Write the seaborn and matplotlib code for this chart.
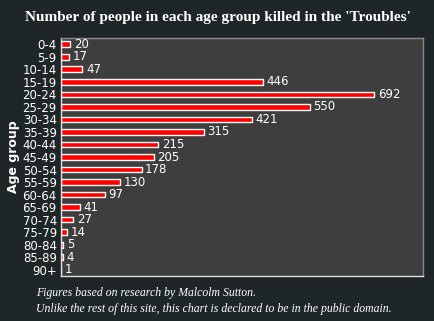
import matplotlib
matplotlib.use("Agg")
import matplotlib.pyplot as plt
import seaborn as sns
import pandas as pd

age_groups = ["0-4", "5-9", "10-14", "15-19", "20-24", "25-29", "30-34", "35-39",
              "40-44", "45-49", "50-54", "55-59", "60-64", "65-69", "70-74",
              "75-79", "80-84", "85-89", "90+"]
killed = [20, 17, 47, 446, 692, 550, 421, 315, 215, 205, 178, 130, 97, 41, 27,
          14, 5, 4, 1]

df = pd.DataFrame({"age": age_groups, "killed": killed})

sns.set_theme(style="dark")
plt.rcParams['font.family'] = ['DejaVu Sans']

fig = plt.figure(figsize=(4.35, 3.21), dpi=100)
fig.patch.set_facecolor("#1f2628")
ax = fig.add_axes([61/435, 45/321, 362/435, 238/321])
ax.set_facecolor("#3e3e3e")

sns.barplot(data=df, y="age", x="killed", orient="h", color="#ff0000",
            edgecolor="white", linewidth=1, width=0.45, saturation=1, ax=ax)

ax.set_xlim(0, 800)
ax.set_ylim(len(age_groups) - 0.5, -0.5)
ax.set_xticks([])
ax.set_xlabel("")
ax.set_ylabel("Age group", color="white", fontsize=9, fontweight="bold", labelpad=2)
ax.tick_params(axis="y", colors="white", labelsize=8.5, length=0, pad=3)
for lab in ax.get_yticklabels():
    lab.set_color("white")

for i, v in enumerate(killed):
    ax.text(v + 8, i, str(v), color="white", fontsize=8.5, va="center", ha="left")

for side in ["top", "right"]:
    ax.spines[side].set_visible(True)
    ax.spines[side].set_color("#8a8a8a")
for side in ["left", "bottom"]:
    ax.spines[side].set_visible(True)
    ax.spines[side].set_color("#e0e0e0")
for s in ax.spines.values():
    s.set_linewidth(1)

fig.text(218/435, 1 - 17/321, "Number of people in each age group killed in the 'Troubles'",
         ha="center", va="center", color="white", fontsize=11, fontweight="bold",
         family="Liberation Serif")
fig.text(36/435, 1 - 293/321, "Figures based on research by Malcolm Sutton.",
         ha="left", va="center", color="white", fontsize=8.5, style="italic",
         family="Liberation Serif")
fig.text(36/435, 1 - 309/321,
         "Unlike the rest of this site, this chart is declared to be in the public domain.",
         ha="left", va="center", color="white", fontsize=8.5, style="italic",
         family="Liberation Serif")

fig.savefig("out.png", dpi=100, facecolor=fig.get_facecolor())
